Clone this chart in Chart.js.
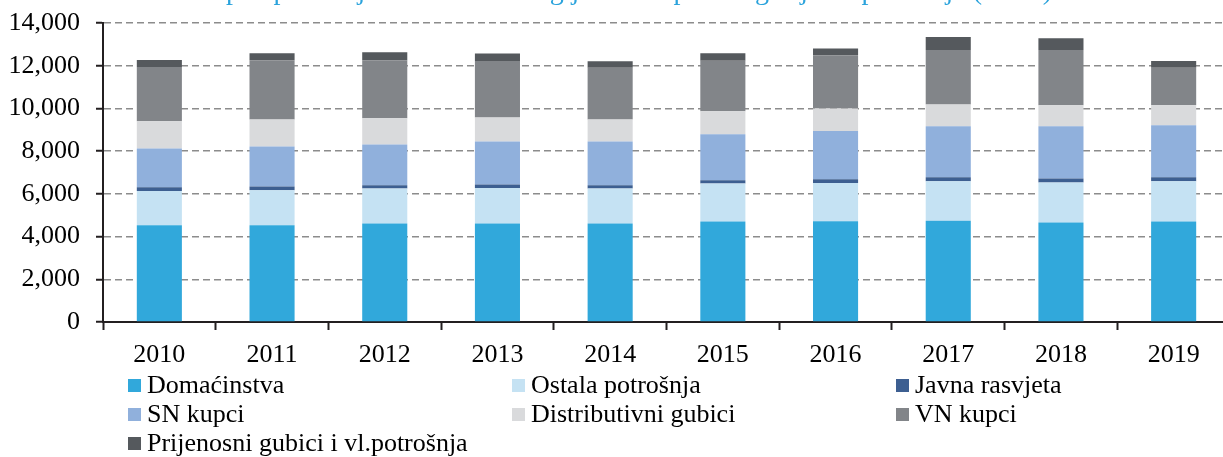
<!DOCTYPE html>
<html>
<head>
<meta charset="utf-8">
<script src="https://cdn.jsdelivr.net/npm/chart.js@4/dist/chart.umd.min.js"></script>
<style>
  html, body { margin: 0; padding: 0; background: #fff; overflow: hidden; }
  #wrap { width: 1223px; height: 457px; overflow: hidden; }
</style>
</head>
<body>
<div id="wrap"><canvas id="barChart" width="1240" height="457"></canvas></div>
<script>
// godine
const years = ["2010", "2011", "2012", "2013", "2014", "2015", "2016", "2017", "2018", "2019"];

// potrošnja po kategorijama (GWh), očitano sa grafika
const domacinstva = [4534, 4534, 4613, 4613, 4613, 4707, 4723, 4738, 4660, 4707];
const ostalaPotrosnja = [1601, 1632, 1632, 1663, 1632, 1773, 1788, 1852, 1867, 1883];
const javnaRasvjeta = [172, 173, 157, 157, 157, 157, 173, 188, 188, 188];
const snKupci = [1820, 1883, 1914, 2024, 2055, 2149, 2259, 2385, 2448, 2432];
const distributivniGubici = [1271, 1255, 1224, 1114, 1020, 1083, 1052, 1020, 988, 941];
const vnKupci = [2542, 2777, 2714, 2652, 2432, 2369, 2494, 2557, 2589, 1758];
const prijenosniGubici = [330, 329, 376, 345, 298, 345, 314, 610, 550, 314];

const yTicks = [0, 2000, 4000, 6000, 8000, 10000, 12000, 14000];

const FONT = "'Liberation Serif', 'Times New Roman', serif";
const ctx = document.getElementById("barChart").getContext("2d");

const series = [
  { label: "Domaćinstva", data: domacinstva, color: "#31a8db" },
  { label: "Ostala potrošnja", data: ostalaPotrosnja, color: "#c5e2f3" },
  { label: "Javna rasvjeta", data: javnaRasvjeta, color: "#3d5f91" },
  { label: "SN kupci", data: snKupci, color: "#90b0dc" },
  { label: "Distributivni gubici", data: distributivniGubici, color: "#d9dadc" },
  { label: "VN kupci", data: vnKupci, color: "#828589" },
  { label: "Prijenosni gubici i vl.potrošnja", data: prijenosniGubici, color: "#55595d" },
];

//! legenda u tri kolone ispod grafika
const gridLegend = {
  id: "gridLegend",
  afterDraw(chart) {
    const c = chart.ctx;
    const area = chart.chartArea;
    c.save();
    c.font = "26px " + FONT;
    c.textBaseline = "middle";
    chart.data.datasets.forEach((ds, i) => {
      const col = i % 3;
      const row = Math.floor(i / 3);
      const x = area.left + 25 + col * 384;
      const y = area.bottom + 63 + row * 29;
      c.fillStyle = ds.backgroundColor;
      c.fillRect(x, y - 6, 13, 13);
      c.fillStyle = "#000";
      c.fillText(ds.label, x + 19, y + 1);
    });
    c.restore();
  },
};

new Chart(ctx, {
  type: "bar",
  data: {
    labels: years,
    datasets: series.map((s) => ({
      label: s.label,
      data: s.data,
      backgroundColor: s.color,
      borderWidth: 0,
      barPercentage: 0.4,
      categoryPercentage: 1,
    })),
  },
  options: {
    responsive: false,
    animation: false,
    layout: { padding: { left: 0, right: 10, top: 0, bottom: 83 } },
    plugins: {
      legend: { display: false },
      tooltip: { enabled: false },
      title: {
        display: true,
        text: "Ukupna potrošnja električne energije u BiH po kategorijama potrošnje (GWh)",
        color: "#2ba3dc",
        font: { family: FONT, size: 28, weight: "normal" },
        padding: { top: -25, bottom: 14.4 },
      },
    },
    scales: {
      x: {
        stacked: true,
        offset: true,
        afterFit: (scale) => { scale.height = 52; },
        grid: {
          offset: true,
          drawOnChartArea: false,
          drawTicks: true,
          tickLength: 8,
          tickColor: "#231f20",
          tickWidth: 2,
          tickBorderDash: [],
        },
        border: { color: "#231f20", width: 2 },
        ticks: {
          color: "#000",
          padding: 10,
          maxRotation: 0,
          font: { family: FONT, size: 26 },
        },
      },
      y: {
        stacked: true,
        min: 0,
        max: 14000,
        afterFit: (scale) => {
          scale.width = 103;
          scale.paddingTop = 0;
        },
        afterBuildTicks: (scale) => {
          scale.ticks = yTicks.map((v) => ({ value: v }));
        },
        grid: {
          color: "#8c8c8c",
          lineWidth: 1.5,
          tickLength: 7,
          tickColor: "#231f20",
          tickWidth: 2,
          tickBorderDash: [],
        },
        border: { color: "#231f20", width: 2, dash: [7, 4] },
        ticks: {
          color: "#000",
          padding: 16,
          font: { family: FONT, size: 26 },
          callback: (value) => value.toLocaleString("en-US"),
        },
      },
    },
  },
  plugins: [gridLegend],
});
</script>
</body>
</html>
